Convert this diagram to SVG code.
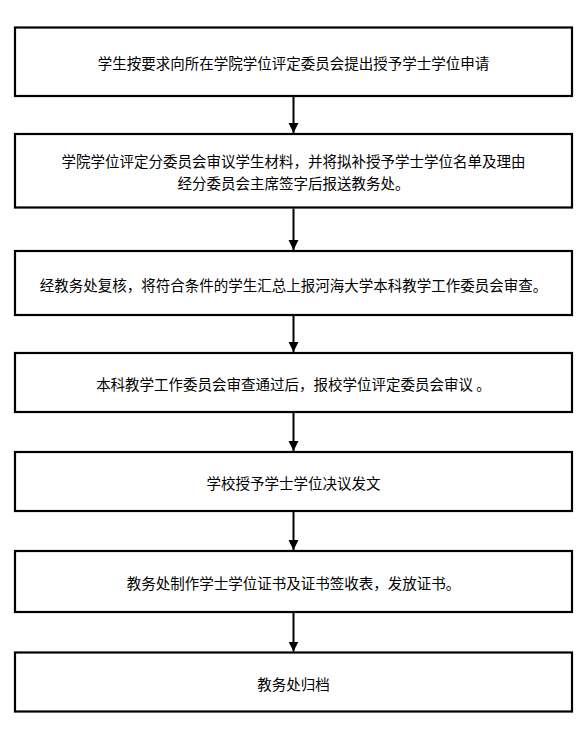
<svg xmlns="http://www.w3.org/2000/svg" width="586" height="735" viewBox="0 0 586 735">
<defs>
<style>
.box{fill:#fff;stroke:#000;stroke-width:2.2}
.t{font-family:"Noto Sans CJK SC","Noto Sans",sans-serif;font-size:14.5px;fill:#000;text-anchor:middle;dominant-baseline:central}
.c{stroke:#000;stroke-width:2;fill:none}
</style>
<marker id="ah" markerUnits="userSpaceOnUse" markerWidth="10" markerHeight="16" refX="10" refY="5" orient="auto">
<path d="M0,0 L10,5 L0,10 Z" fill="#000"/>
</marker>
</defs>
<rect width="586" height="735" fill="#fff"/>
<g id="connectors">
<path class="c" d="M293.5,97 V133" marker-end="url(#ah)"/>
<path class="c" d="M293.5,208.5 V250" marker-end="url(#ah)"/>
<path class="c" d="M293.5,316 V352" marker-end="url(#ah)"/>
<path class="c" d="M293.5,413 V451" marker-end="url(#ah)"/>
<path class="c" d="M293.5,512 V550" marker-end="url(#ah)"/>
<path class="c" d="M293.5,613 V651.5" marker-end="url(#ah)"/>
</g>
<g id="n1"><rect class="box" x="15" y="27.5" width="557" height="68.5"/><text class="t" x="293.5" y="62">学生按要求向所在学院学位评定委员会提出授予学士学位申请</text></g>
<g id="n2"><rect class="box" x="15" y="134" width="557" height="73.5"/><text class="t" x="293.5" y="160.5">学院学位评定分委员会审议学生材料，并将拟补授予学士学位名单及理由</text><text class="t" x="293.5" y="182">经分委员会主席签字后报送教务处。</text></g>
<g id="n3"><rect class="box" x="15" y="251" width="557" height="64"/><text class="t" x="293.5" y="284">经教务处复核，将符合条件的学生汇总上报河海大学本科教学工作委员会审查。</text></g>
<g id="n4"><rect class="box" x="15" y="353" width="557" height="59"/><text class="t" x="293.5" y="383">本科教学工作委员会审查通过后，报校学位评定委员会审议 。</text></g>
<g id="n5"><rect class="box" x="15" y="452" width="557" height="59"/><text class="t" x="293.5" y="482">学校授予学士学位决议发文</text></g>
<g id="n6"><rect class="box" x="15" y="551" width="557" height="61"/><text class="t" x="293.5" y="582">教务处制作学士学位证书及证书签收表，发放证书。</text></g>
<g id="n7"><rect class="box" x="15" y="652.5" width="557" height="59"/><text class="t" x="293.5" y="683">教务处归档</text></g>
</svg>
